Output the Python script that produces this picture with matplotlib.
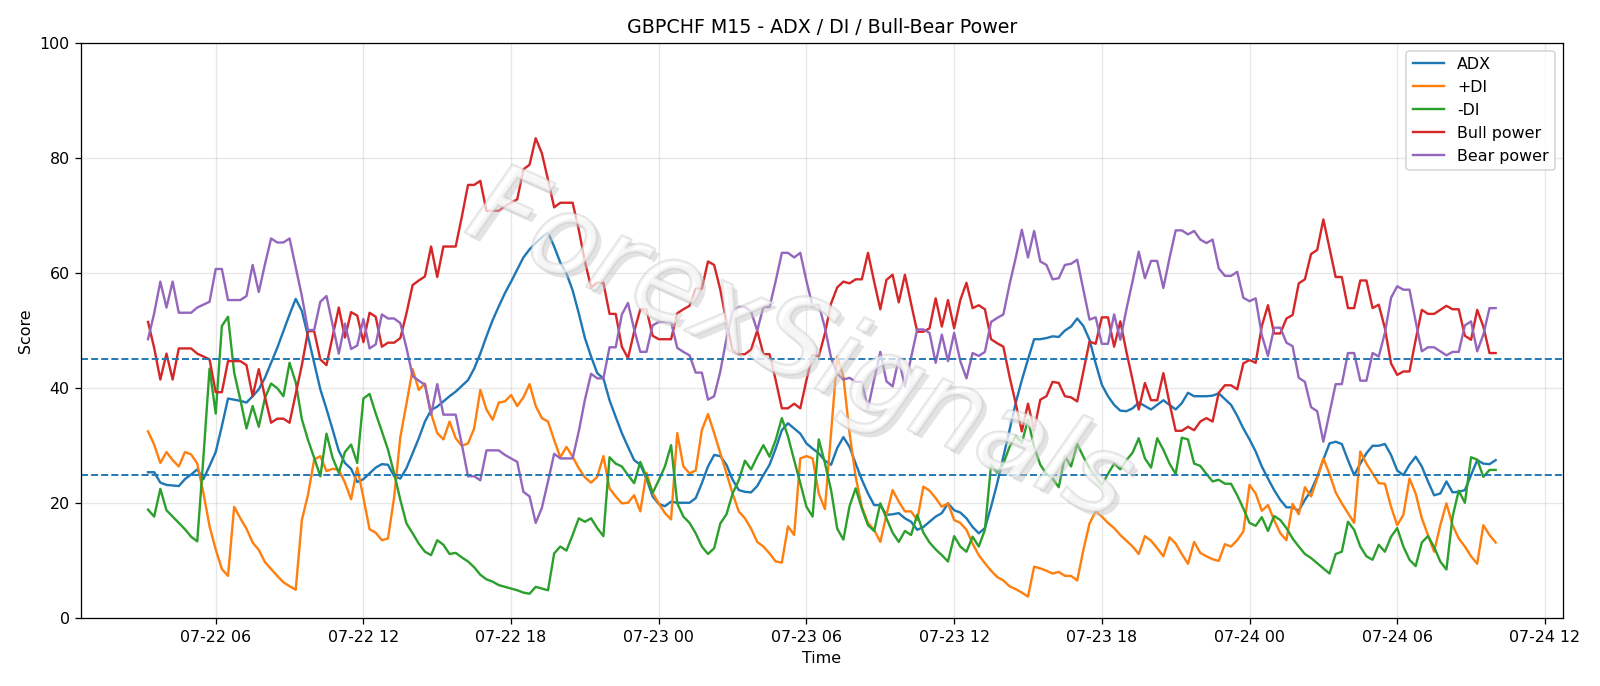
import matplotlib
matplotlib.use("Agg")
import matplotlib.pyplot as plt
import matplotlib.dates as mdates
import matplotlib.patheffects as pe
import pandas as pd

# M15 bars, 07-22 03:15 -> 07-24 10:00
start_time = "2025-07-22 03:15"
n_bars = 220

adx = [
    25.4, 25.4, 23.6, 23.2, 23.1, 23, 24.2, 25, 25.9, 24.2,
    26.5, 28.9, 33.4, 38.2, 38, 37.8, 37.5, 38.6, 39.8, 41.8,
    44.4, 47, 49.9, 52.8, 55.5, 53.4, 49, 44.4, 39.8, 36.4,
    32.8, 29.1, 27, 26, 23.7, 24.2, 25.2, 26.2, 26.8, 26.7,
    24.7, 24.3, 26.1, 28.7, 31.3, 34.2, 36.2, 36.8, 37.7, 38.6,
    39.4, 40.4, 41.4, 43.4, 46, 49, 51.8, 54.2, 56.5, 58.5,
    60.6, 62.7, 64.1, 65.2, 66.2, 67, 64.6, 61.8, 59.9, 57,
    53, 48.7, 45.5, 42.6, 41.7, 37.9, 35, 32.2, 29.8, 27.5,
    26.7, 24.3, 21.2, 19.9, 19.5, 20.3, 20.1, 20.1, 20.1, 20.9,
    23.5, 26.4, 28.4, 28.2, 26.7, 24.1, 22.3, 22, 21.9, 23,
    24.9, 26.7, 29.5, 32.7, 33.9, 33, 32.1, 30.4, 29.5, 28.7,
    27.4, 26.7, 29.6, 31.5, 29.8, 26.9, 24.1, 21.7, 19.7, 19.7,
    18, 18.1, 18.3, 17.4, 16.8, 15.4, 15.9, 16.8, 17.7, 18.3,
    20, 18.8, 18.4, 17.4, 15.9, 14.8, 15.7, 19.4, 23.5, 28.1,
    32.7, 37.4, 41.4, 45, 48.5, 48.5, 48.7, 49, 48.9, 50,
    50.7, 52.1, 50.8, 48.4, 44.3, 40.6, 38.6, 37.1, 36.1, 36,
    36.5, 37.5, 36.9, 36.3, 37.1, 37.9, 37.1, 36.3, 37.4, 39.2,
    38.6, 38.6, 38.6, 38.7, 39.1, 38.1, 37.1, 35.2, 33, 31.1,
    29, 26.4, 24.3, 22.3, 20.6, 19.3, 19.3, 18.7, 20.6, 22.2,
    24.6, 27.6, 30.4, 30.7, 30.3, 27.5, 24.9, 26.9, 28.7, 30,
    30, 30.3, 28.4, 25.7, 24.9, 26.7, 28.1, 26.4, 23.8, 21.4,
    21.7, 23.8, 21.9, 22, 22.3, 24.9, 27.5, 26.9, 26.8, 27.5,
]

plus_di = [
    32.5, 30.2, 27, 28.9, 27.5, 26.4, 28.9, 28.5, 26.9, 21.8,
    16, 12, 8.6, 7.4, 19.4, 17.4, 15.6, 13.2, 11.9, 9.8,
    8.6, 7.4, 6.3, 5.6, 5, 17.1, 21.5, 27.6, 28.2, 25.6,
    26, 25.8, 23.6, 20.7, 26.2, 21, 15.5, 14.9, 13.6, 13.9,
    21.1, 31.5, 37.3, 43.3, 39.7, 40.8, 35.6, 32.2, 31.1, 34.2,
    31.3, 30, 30.4, 33, 39.7, 36.3, 34.5, 37.5, 37.7, 38.8,
    36.9, 38.4, 40.7, 36.9, 34.8, 34.2, 31, 28, 29.8, 28.1,
    26.1, 24.5, 23.6, 24.6, 28.2, 22.6, 21.2, 20, 20.1, 21.4,
    18.6, 25.3, 21.8, 20, 18.3, 17.2, 32.2, 26.4, 25.2, 25.7,
    32.7, 35.5, 32.2, 28.7, 25.2, 21.7, 18.6, 17.4, 15.6, 13.3,
    12.5, 11.3, 9.9, 9.7, 16, 14.5, 27.8, 28.2, 27.8, 21.7,
    19, 32.2, 45.5, 42, 32.2, 24.6, 19.4, 16.6, 15.4, 13.3,
    18, 22.3, 20.3, 18.6, 18.6, 17.1, 22.9, 22.2, 20.9, 19.4,
    20, 17.1, 16.6, 15.4, 13, 11, 9.6, 8.3, 7.2, 6.6,
    5.6, 5.1, 4.5, 3.8, 9, 8.7, 8.3, 7.8, 8.1, 7.4,
    7.4, 6.6, 11.9, 16.5, 18.6, 17.7, 16.6, 15.7, 14.5, 13.5,
    12.5, 11.2, 14.3, 13.5, 12.2, 10.8, 14.1, 13, 11.2, 9.5,
    13.3, 11.4, 10.8, 10.3, 10, 12.9, 12.5, 13.6, 15.1, 23.2,
    21.7, 18.7, 19.7, 17.1, 14.8, 13.6, 19.9, 18.1, 22.8, 21.2,
    24.3, 27.8, 25.1, 21.9, 20, 18.3, 16.6, 29, 26.9, 25.2,
    23.5, 23.4, 19.4, 16.2, 18, 24.3, 21.7, 17.4, 14.5, 11.6,
    16.2, 20, 16.2, 13.9, 12.5, 10.8, 9.5, 16.2, 14.5, 13.2,
]

minus_di = [
    18.9, 17.7, 22.5, 18.8, 17.7, 16.6, 15.5, 14.2, 13.4, 28,
    43.4, 35.6, 50.8, 52.4, 42.7, 38, 33, 36.9, 33.3, 38.3,
    40.8, 40, 38.6, 44.4, 41, 34.6, 31, 27.9, 24.7, 32.1,
    27.9, 25.3, 28.9, 30.2, 27, 38.2, 39, 35.6, 32.5, 29.3,
    25.2, 20.6, 16.5, 14.8, 13, 11.6, 11, 13.6, 12.8, 11.2,
    11.4, 10.6, 9.9, 8.9, 7.6, 6.8, 6.4, 5.8, 5.5, 5.2,
    4.9, 4.5, 4.3, 5.5, 5.2, 4.9, 11.3, 12.5, 11.8, 14.5,
    17.4, 16.8, 17.4, 15.7, 14.3, 28, 26.9, 26.4, 24.9, 23.5,
    27.2, 24.6, 21.8, 24, 26.4, 30.1, 20, 17.7, 16.6, 14.8,
    12.5, 11.2, 12.2, 16.5, 18.1, 21.7, 24, 27.4, 25.9, 28.1,
    30.1, 28.1, 31, 34.8, 31.6, 27.5, 23.5, 19.4, 17.7, 31.1,
    27, 22.3, 15.6, 13.7, 19.5, 22.6, 19.1, 16.2, 15.2, 20,
    17.4, 14.9, 13.3, 15.2, 14.5, 18, 14.9, 13.2, 12, 11,
    9.9, 14.3, 12.5, 11.6, 14.2, 12.5, 15.4, 26.7, 25.3, 26.9,
    29.8, 31.7, 30.5, 34.5, 29.8, 26.7, 25.1, 24.3, 22.8, 28.2,
    26.4, 30.3, 28.1, 26.1, 24.6, 23.2, 25.1, 26.9, 25.9, 27.5,
    28.8, 31.3, 27.8, 26.2, 31.3, 29.3, 26.9, 25.1, 31.4, 31.1,
    26.9, 26.5, 25.1, 23.8, 24.1, 23.4, 23.4, 21.4, 19.1, 16.6,
    16.1, 17.6, 15.2, 17.8, 17.1, 15.7, 13.9, 12.5, 11.2, 10.5,
    9.6, 8.7, 7.8, 11.2, 11.6, 16.8, 15.4, 12.5, 10.8, 10.2,
    12.8, 11.6, 14.2, 15.7, 12.5, 10.2, 9.1, 13.2, 14.3, 12.4,
    9.9, 8.5, 17.7, 22.2, 20.1, 28, 27.6, 24.6, 25.8, 25.8,
]

bull_power = [
    51.5, 47, 41.5, 46, 41.5, 46.9, 46.9, 46.9, 46, 45.5,
    45, 39.3, 39.3, 44.7, 44.7, 44.7, 44, 38.6, 43.3, 38.5,
    34, 34.7, 34.7, 34, 39, 44, 49.9, 49.9, 45, 44,
    49, 54, 48.8, 53.2, 52.6, 48, 53.1, 52.4, 47.2, 47.9,
    47.9, 48.7, 53, 57.9, 58.7, 59.4, 64.6, 59.3, 64.6, 64.6,
    64.6, 69.8, 75.3, 75.3, 76, 70.8, 70.8, 70.8, 71.6, 72.2,
    72.8, 78, 78.8, 83.4, 80.8, 76.2, 71.4, 72.2, 72.2, 72.2,
    67.5, 62, 57.5, 58.3, 58.3, 52.9, 52.9, 47.2, 45.2, 49.8,
    53.7, 53.7, 49.1, 48.5, 48.5, 48.5, 53, 53.7, 54.3, 57.3,
    57.3, 62, 61.4, 57.1, 51.4, 46.7, 45.9, 45.9, 46.7, 50,
    45.9, 45.9, 41.4, 36.5, 36.5, 37.3, 36.5, 41.4, 45.8, 45.5,
    49.5, 54.7, 57.5, 58.5, 58.2, 58.9, 58.9, 63.5, 58.5, 53.7,
    58.8, 59.7, 54.9, 59.7, 54.7, 49.8, 49.8, 50.4, 55.6, 50.7,
    55.3, 50.4, 55.3, 58.3, 53.9, 54.4, 53.7, 48.5, 47.8, 47.2,
    42, 37.4, 32.5, 37.3, 32.7, 38, 38.6, 41.1, 40.9, 38.6,
    38.4, 37.7, 42.9, 48.1, 47.7, 52.3, 52.3, 47.2, 51.6, 46.3,
    41.4, 36.3, 40.9, 37.9, 37.9, 42.6, 37.4, 32.6, 32.6, 33.3,
    32.7, 34.2, 34.8, 34.2, 39.2, 40.5, 40.5, 39.8, 44.3, 44.9,
    44.4, 50.8, 54.4, 49.5, 49.5, 52.1, 52.7, 58.2, 58.9, 63.3,
    64, 69.3, 64.3, 59.3, 59.3, 53.9, 53.9, 58.7, 58.7, 53.9,
    54.5, 50.4, 44.3, 42.3, 42.9, 42.9, 48.4, 53.6, 52.9, 52.9,
    53.6, 54.3, 53.7, 53.7, 49.1, 48.4, 53.6, 50.7, 46.1, 46.1,
]

bear_power = [
    48.5, 53, 58.5, 54, 58.5, 53.1, 53.1, 53.1, 54, 54.5,
    55, 60.7, 60.7, 55.3, 55.3, 55.3, 56, 61.4, 56.7, 61.5,
    66, 65.3, 65.3, 66, 61, 56, 50.1, 50.1, 55, 56,
    51, 46, 51.2, 46.8, 47.4, 52, 46.9, 47.6, 52.8, 52.1,
    52.1, 51.3, 47, 42.1, 41.3, 40.6, 35.4, 40.7, 35.4, 35.4,
    35.4, 30.2, 24.7, 24.7, 24, 29.2, 29.2, 29.2, 28.4, 27.8,
    27.2, 22, 21.2, 16.6, 19.2, 23.8, 28.6, 27.8, 27.8, 27.8,
    32.5, 38, 42.5, 41.7, 41.7, 47.1, 47.1, 52.8, 54.8, 50.2,
    46.3, 46.3, 50.9, 51.5, 51.5, 51.5, 47, 46.3, 45.7, 42.7,
    42.7, 38, 38.6, 42.9, 48.6, 53.3, 54.1, 54.1, 53.3, 50,
    54.1, 54.1, 58.6, 63.5, 63.5, 62.7, 63.5, 58.6, 54.2, 54.5,
    50.5, 45.3, 42.5, 41.5, 41.8, 41.1, 41.1, 36.5, 41.5, 46.3,
    41.2, 40.3, 45.1, 40.3, 45.3, 50.2, 50.2, 49.6, 44.4, 49.3,
    44.7, 49.6, 44.7, 41.7, 46.1, 45.6, 46.3, 51.5, 52.2, 52.8,
    58, 62.6, 67.5, 62.7, 67.3, 62, 61.4, 58.9, 59.1, 61.4,
    61.6, 62.3, 57.1, 51.9, 52.3, 47.7, 47.7, 52.8, 48.4, 53.7,
    58.6, 63.7, 59.1, 62.1, 62.1, 57.4, 62.6, 67.4, 67.4, 66.7,
    67.3, 65.8, 65.2, 65.8, 60.8, 59.5, 59.5, 60.2, 55.7, 55.1,
    55.6, 49.2, 45.6, 50.5, 50.5, 47.9, 47.3, 41.8, 41.1, 36.7,
    36, 30.7, 35.7, 40.7, 40.7, 46.1, 46.1, 41.3, 41.3, 46.1,
    45.5, 49.6, 55.7, 57.7, 57.1, 57.1, 51.6, 46.4, 47.1, 47.1,
    46.4, 45.7, 46.3, 46.3, 50.9, 51.6, 46.4, 49.3, 53.9, 53.9,
]

levels = [25, 45]

times = pd.date_range(start_time, periods=n_bars, freq="15min")

fig = plt.figure(figsize=(14, 6.0025), dpi=1600 / 14)
ax = fig.add_axes([0.0504, 0.0984, 0.9265, 0.8394])

ax.plot(times, adx, label="ADX")
ax.plot(times, plus_di, label="+DI")
ax.plot(times, minus_di, label="-DI")
ax.plot(times, bull_power, label="Bull power")
ax.plot(times, bear_power, label="Bear power")

for lv in levels:
    ax.axhline(lv, linestyle="--", linewidth=1.2, color="tab:blue")

ax.set_ylim(0, 100)
ax.set_title("GBPCHF M15 - ADX / DI / Bull-Bear Power")
ax.set_xlabel("Time")
ax.set_ylabel("Score")
ax.grid(True, alpha=0.3)
ax.xaxis.set_major_locator(mdates.HourLocator(byhour=[0, 6, 12, 18]))
ax.xaxis.set_major_formatter(mdates.DateFormatter("%m-%d %H"))
ax.legend(loc="upper right")

# marca d'agua
ax.text(0.485, 0.47, "ForexSignals", transform=ax.transAxes, fontsize=70,
        rotation=-24, ha="center", va="center", color="white", alpha=0.45,
        fontstyle="italic", zorder=10,
        path_effects=[pe.SimplePatchShadow(offset=(3, -3), shadow_rgbFace="#c8c8c8", alpha=0.5),
                      pe.Stroke(linewidth=1.8, foreground="#c4c4c4"), pe.Normal()])

fig.savefig("out.png", dpi=1600 / 14)
